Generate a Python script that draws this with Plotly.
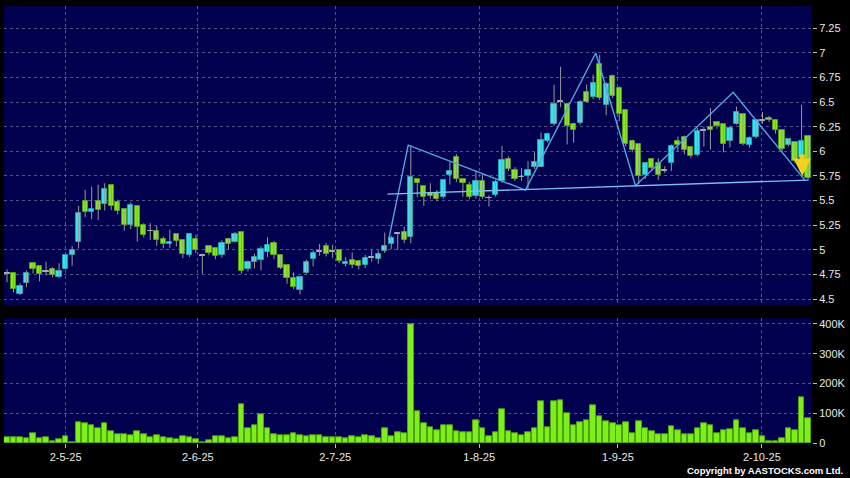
import plotly.graph_objects as go
from plotly.subplots import make_subplots

# ---------------- data ----------------
first_index = -9  # trading-day index of first candle (0 = 2 May 2025)

opens = [4.76, 4.764, 4.551, 4.662, 4.865, 4.831, 4.78, 4.804, 4.723, 4.804,
         4.946, 5.081, 5.493, 5.385, 5.493, 5.463, 5.655, 5.483, 5.412, 5.25,
         5.446, 5.25, 5.19, 5.19, 5.108, 5.061, 5.159, 5.095, 4.946, 5.108,
         4.94, 5.034, 5.014, 4.946, 5.108, 5.081, 5.179, 4.804, 4.875, 4.892,
         4.976, 5.068, 4.946, 4.845, 4.716, 4.588, 4.764, 4.905, 4.986, 5.034,
         4.983, 4.993, 4.858, 4.892, 4.89, 4.845, 4.922, 4.905, 4.986, 5.054,
         5.162, 5.176, 5.135, 5.716, 5.649, 5.574, 5.581, 5.534, 5.764, 5.939,
         5.716, 5.655, 5.547, 5.696, 5.527, 5.554, 5.699, 5.919, 5.807, 5.74,
         5.745, 5.84, 5.843, 6.105, 6.28, 6.505, 6.483, 6.28, 6.287, 6.605,
         6.551, 6.889, 6.47, 6.764, 6.645, 6.422, 6.105, 6.071, 5.757, 5.919,
         5.883, 5.807, 5.882, 6.101, 6.145, 6.04, 5.966, 6.209, 6.243, 6.294,
         6.274, 6.101, 6.28, 6.378, 6.064, 6.145, 6.314, 6.341, 6.314, 6.213,
         6.068, 6.095, 5.93, 6.152]
closes = [4.76, 4.601, 4.635, 4.764, 4.804, 4.753, 4.78, 4.743, 4.78, 4.943,
          5.0, 5.372, 5.382, 5.412, 5.405, 5.615, 5.446, 5.392, 5.25, 5.453,
          5.236, 5.149, 5.19, 5.095, 5.061, 5.081, 5.088, 4.953, 5.159, 5.0,
          4.94, 4.966, 4.939, 5.074, 5.054, 5.162, 4.784, 4.875, 4.926, 5.007,
          5.051, 4.946, 4.811, 4.709, 4.622, 4.723, 4.875, 4.966, 4.986, 4.959,
          4.983, 4.882, 4.872, 4.845, 4.838, 4.912, 4.922, 4.953, 5.041, 5.125,
          5.162, 5.095, 5.743, 5.682, 5.534, 5.547, 5.514, 5.709, 5.797, 5.716,
          5.682, 5.541, 5.696, 5.541, 5.527, 5.689, 5.909, 5.818, 5.72, 5.74,
          5.815, 5.895, 6.115, 6.18, 6.483, 6.505, 6.26, 6.22, 6.503, 6.503,
          6.696, 6.544, 6.686, 6.561, 6.375, 6.071, 6.01, 5.75, 5.885, 5.828,
          5.755, 5.807, 6.051, 6.064, 6.017, 5.956, 6.203, 6.209, 6.213, 6.253,
          6.078, 6.233, 6.399, 6.078, 6.139, 6.314, 6.314, 6.314, 6.22, 6.024,
          6.125, 5.899, 6.101, 5.726]
highs = [4.80, 4.77, 4.66, 4.79, 4.87, 4.84, 4.878, 4.824, 4.865, 4.95,
         5.04, 5.446, 5.608, 5.642, 5.66, 5.676, 5.66, 5.51, 5.42, 5.483,
         5.45, 5.27, 5.27, 5.243, 5.135, 5.203, 5.16, 5.10, 5.169, 5.152,
         4.96, 5.04, 5.02, 5.095, 5.12, 5.182, 5.18, 4.892, 4.96, 5.034,
         5.128, 5.088, 4.95, 4.85, 4.77, 4.73, 4.899, 4.993, 5.061, 5.068,
         5.05, 5.0, 4.926, 4.973, 4.895, 4.949, 5.0, 4.993, 5.176, 5.142,
         5.169, 5.236, 6.061, 5.72, 5.65, 5.676, 5.608, 5.72, 5.892, 5.973,
         5.72, 5.69, 5.804, 5.777, 5.554, 5.709, 6.054, 5.95, 5.84, 5.83,
         5.90, 5.99, 6.19, 6.19, 6.676, 6.86, 6.49, 6.29, 6.52, 6.68,
         6.78, 6.983, 6.70, 6.78, 6.66, 6.43, 6.12, 6.08, 5.89, 5.93,
         5.93, 5.85, 6.07, 6.15, 6.16, 6.05, 6.24, 6.25, 6.44, 6.30,
         6.28, 6.26, 6.456, 6.38, 6.15, 6.32, 6.40, 6.36, 6.32, 6.22,
         6.13, 6.10, 6.473, 6.16]
lows = [4.67, 4.568, 4.54, 4.62, 4.76, 4.68, 4.74, 4.72, 4.713, 4.80,
        4.838, 5.014, 5.331, 5.31, 5.304, 5.399, 5.405, 5.36, 5.196, 5.21,
        5.084, 5.125, 5.10, 5.04, 5.014, 5.02, 5.034, 4.916, 4.926, 4.966,
        4.757, 4.946, 4.905, 4.919, 5.0, 5.074, 4.757, 4.78, 4.81, 4.79,
        4.926, 4.905, 4.804, 4.655, 4.601, 4.547, 4.757, 4.831, 4.939, 4.932,
        4.916, 4.865, 4.831, 4.814, 4.80, 4.814, 4.88, 4.858, 4.966, 5.007,
        5.0, 5.068, 5.068, 5.54, 5.446, 5.52, 5.493, 5.52, 5.662, 5.689,
        5.54, 5.514, 5.52, 5.52, 5.439, 5.54, 5.68, 5.80, 5.70, 5.70,
        5.62, 5.82, 5.84, 6.09, 6.26, 6.45, 6.071, 6.088, 6.27, 6.50,
        6.53, 6.52, 6.368, 6.54, 6.307, 6.05, 5.99, 5.666, 5.72, 5.80,
        5.71, 5.78, 5.80, 6.0, 5.97, 5.93, 5.95, 6.05, 6.02, 6.23,
        5.99, 6.04, 6.27, 6.06, 6.04, 6.13, 6.28, 6.30, 6.18, 5.99,
        6.05, 5.88, 5.90, 5.70]
volumes_k = [19, 19, 19, 17, 31, 15, 19, 7, 11, 23,
             4, 69, 66, 59, 51, 67, 39, 28, 29, 26,
             38, 28, 18, 25, 20, 15, 11, 23, 19, 12,
             4, 8, 22, 22, 15, 20, 130, 51, 58, 98,
             51, 29, 27, 25, 31, 26, 22, 27, 27, 19,
             20, 18, 16, 22, 19, 25, 21, 17, 51, 22,
             36, 31, 398, 107, 65, 54, 44, 60, 60, 41,
             37, 36, 75, 50, 22, 36, 112, 39, 31, 27,
             37, 50, 140, 53, 141, 143, 101, 58, 70, 76,
             127, 91, 74, 65, 58, 69, 34, 72, 49, 40,
             30, 30, 56, 42, 30, 28, 51, 67, 58, 31,
             42, 47, 78, 49, 31, 42, 21, 7, 7, 15,
             51, 42, 152, 83]

date_tick_labels = ["2-5-25", "2-6-25", "2-7-25", "1-8-25", "1-9-25", "2-10-25"]
date_tick_index = [0, 20.3, 41.4, 63.5, 84.8, 106.9]

price_ticks = [4.5, 4.75, 5, 5.25, 5.5, 5.75, 6, 6.25, 6.5, 6.75, 7, 7.25]
price_tick_labels = ["4.5", "4.75", "5", "5.25", "5.5", "5.75", "6", "6.25", "6.5", "6.75", "7", "7.25"]
vol_ticks = [0, 100000, 200000, 300000, 400000]
vol_tick_labels = ["0", "100K", "200K", "300K", "400K"]

# pattern (head & shoulders) drawn on chart
pattern_index = [49.6, 52.6, 70.6, 81.4, 87.5, 102.5, 113.5]
pattern_price = [5.10, 6.064, 5.607, 7.0, 5.65, 6.60, 5.708]
neckline_index = [49.4, 114.0]
neckline_price = [5.566, 5.708]
signal_index = 113.1
signal_price = 5.75

# ---------------- styles ----------------
NAVY = "#00004f"
UP_FILL, UP_LINE = "#33e4f2", "#1c9fb0"
DN_FILL, DN_LINE = "#84ea1c", "#4f9c10"
DOJI = "#a8b0c0"
WICK = "#9a9a9a"
GRID = "#53538a"
TXT = "#e8e8e8"

n = len(opens)
xs = [first_index + i for i in range(n)]

fig = make_subplots(rows=2, cols=1, shared_xaxes=True, vertical_spacing=0.0,
                    row_heights=[0.7, 0.3])

# wicks
wx, wy = [], []
for x, h, l in zip(xs, highs, lows):
    wx += [x, x, None]
    wy += [l, h, None]
fig.add_trace(go.Scatter(x=wx, y=wy, mode="lines", line=dict(color=WICK, width=1),
                         hoverinfo="skip", showlegend=False), row=1, col=1)

# bodies
base, height, fill, edge = [], [], [], []
for o, c in zip(opens, closes):
    lo = min(o, c)
    h = abs(c - o)
    if h < 0.004:
        base.append(o - 0.004)
        height.append(0.008)
        fill.append(DOJI)
        edge.append(DOJI)
    else:
        base.append(lo)
        height.append(h)
        if c > o:
            fill.append(UP_FILL); edge.append(UP_LINE)
        else:
            fill.append(DN_FILL); edge.append(DN_LINE)
fig.add_trace(go.Bar(x=xs, y=height, base=base, width=0.8,
                     marker=dict(color=fill, line=dict(color=edge, width=1)),
                     showlegend=False, hoverinfo="skip"), row=1, col=1)

# pattern lines
fig.add_trace(go.Scatter(x=pattern_index, y=pattern_price, mode="lines",
                         line=dict(color="#4fa6e6", width=1.4), showlegend=False,
                         hoverinfo="skip"), row=1, col=1)
fig.add_trace(go.Scatter(x=neckline_index, y=neckline_price, mode="lines",
                         line=dict(color="#7cc0ee", width=1.4), showlegend=False,
                         hoverinfo="skip"), row=1, col=1)

# volume
fig.add_trace(go.Bar(x=xs, y=[v * 1000 for v in volumes_k], width=0.86,
                     marker=dict(color="#7df01c", line=dict(color="#4da20e", width=1)),
                     showlegend=False, hoverinfo="skip"), row=2, col=1)

fig.add_annotation(x=signal_index, y=signal_price, xref="x", yref="y",
                   ax=0, ay=-23, showarrow=True, arrowhead=2, arrowsize=0.7,
                   arrowwidth=5, arrowcolor="#f2d21a", text="")

fig.add_annotation(x=1, y=0, xref="paper", yref="paper", xanchor="right", yanchor="bottom",
                   xshift=33, yshift=-35, showarrow=False,
                   text="<b>Copyright by AASTOCKS.com Ltd.</b>",
                   font=dict(family="Liberation Sans, Arial", size=9.5, color="#ffffff"))

xr = [-9.46, 114.6]
fig.update_xaxes(range=xr, showgrid=True, gridcolor=GRID, griddash="3px,3px", gridwidth=1,
                 tickvals=date_tick_index, ticktext=date_tick_labels, zeroline=False,
                 showline=False)
fig.update_xaxes(showticklabels=False, ticks="", row=1, col=1)
fig.update_xaxes(ticks="outside", ticklen=4, tickcolor="#bbbbbb",
                 tickfont=dict(family="Liberation Sans, Arial", size=11, color=TXT),
                 row=2, col=1)

fig.update_yaxes(side="right", showgrid=True, gridcolor=GRID, griddash="3px,3px", gridwidth=1,
                 zeroline=False, ticks="outside", ticklen=4, tickcolor="#bbbbbb",
                 tickfont=dict(family="Liberation Sans, Arial", size=11, color=TXT))
fig.update_yaxes(range=[4.429, 7.477], tickvals=price_ticks, ticktext=price_tick_labels,
                 domain=[0.3135, 1.0], row=1, col=1)
fig.update_yaxes(range=[0, 419000], tickvals=vol_ticks, ticktext=vol_tick_labels,
                 domain=[0.0, 0.2854], row=2, col=1)

fig.update_layout(width=850, height=478, margin=dict(l=4, r=36, t=6, b=35),
                  paper_bgcolor="#000000", plot_bgcolor=NAVY, bargap=0,
                  barmode="overlay", showlegend=False)

fig.write_html("out.html", config={"displayModeBar": False},
               post_script="document.body.style.margin='0';document.body.style.background='#000';")
